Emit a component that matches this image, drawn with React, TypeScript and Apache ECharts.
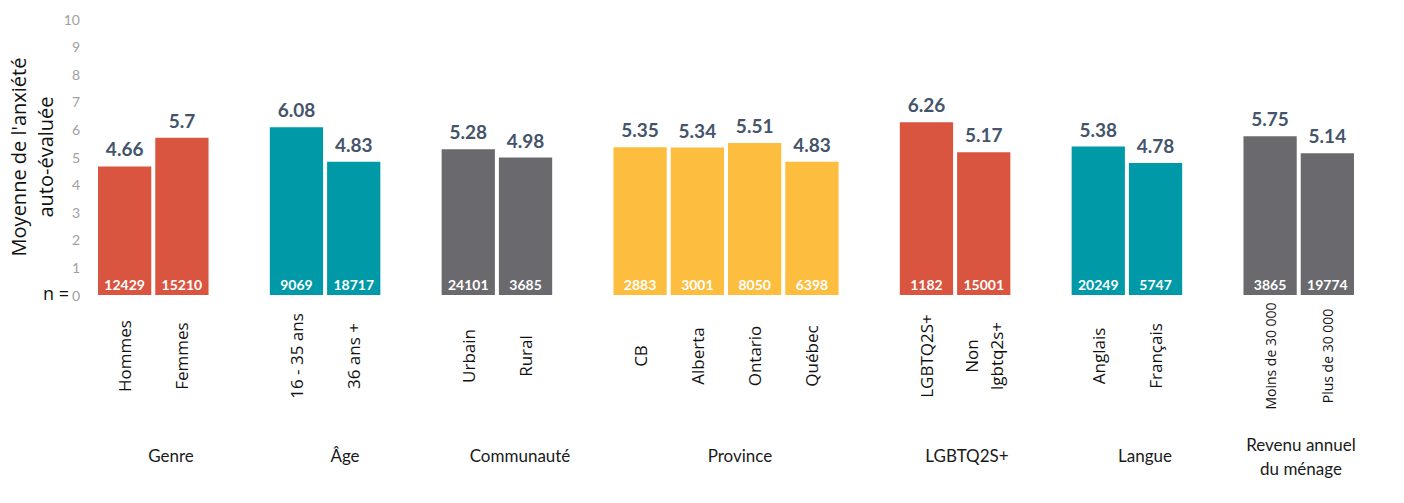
import React, { useEffect, useRef } from "react";
import * as echarts from "echarts";

const groups = ["Genre", "Âge", "Communauté", "Province", "LGBTQ2S+", "Langue", "Revenu annuel\ndu ménage"];
const categoriesByGroup = [
  ["Hommes", "Femmes"],
  ["16 - 35 ans", "36 ans +"],
  ["Urbain", "Rural"],
  ["CB", "Alberta", "Ontario", "Québec"],
  ["LGBTQ2S+", "Non\nlgbtq2s+"],
  ["Anglais", "Français"],
  ["Moins de 30 000", "Plus de 30 000"],
];
const means = [
  [4.66, 5.7],
  [6.08, 4.83],
  [5.28, 4.98],
  [5.35, 5.34, 5.51, 4.83],
  [6.26, 5.17],
  [5.38, 4.78],
  [5.75, 5.14],
];
const counts = [
  [12429, 15210],
  [9069, 18717],
  [24101, 3685],
  [2883, 3001, 8050, 6398],
  [1182, 15001],
  [20249, 5747],
  [3865, 19774],
];
const groupColors = ["#D9553F", "#0099A8", "#6A6A6E", "#FDBE3F", "#D9553F", "#0099A8", "#6A6A6E"];
const yTicks = [0, 1, 2, 3, 4, 5, 6, 7, 8, 9, 10];
const groupLabelX = [171, 345, 520, 740, 967, 1145, 1301];

export default function App() {
  const ref = useRef<HTMLDivElement>(null);
  useEffect(() => {
    if (!ref.current) return;
    const chart = echarts.init(ref.current, null, { renderer: "svg" });

    const cats: string[] = [];
    const smallCats = new Set<string>(categoriesByGroup[6]);
    const meanData: any[] = [];
    const countData: any[] = [];
    groups.forEach((g, gi) => {
      if (gi > 0) {
        cats.push("gap" + gi);
        meanData.push("-");
        countData.push("-");
      }
      categoriesByGroup[gi].forEach((c, ci) => {
        cats.push(c);
        meanData.push({ value: means[gi][ci], itemStyle: { color: groupColors[gi] } });
        countData.push({ value: means[gi][ci], n: counts[gi][ci] });
      });
    });

    const graphics: any[] = [
      {
        type: "text",
        x: 32,
        y: 157,
        rotation: Math.PI / 2,
        style: {
          text: "Moyenne de l'anxiété\nauto-évaluée",
          fontFamily: "Open Sans",
          fontSize: 20,
          lineHeight: 27,
          fill: "#111",
          align: "center",
          verticalAlign: "middle",
        },
      },
      {
        type: "text",
        x: 56,
        y: 293,
        style: {
          text: "n =",
          fontFamily: "Open Sans",
          fontSize: 18,
          fill: "#111",
          align: "center",
          verticalAlign: "middle",
        },
      },
    ];
    groups.forEach((g, gi) => {
      graphics.push({
        type: "text",
        x: groupLabelX[gi],
        y: gi === 6 ? 456 : 455,
        style: {
          text: g,
          fontFamily: "Lato",
          fontSize: 17,
          lineHeight: 24,
          fill: "#1a1a1a",
          align: "center",
          verticalAlign: "middle",
        },
      });
    });

    chart.setOption({
      animation: false,
      grid: { left: 96, right: 48, top: 19, bottom: 208, containLabel: false },
      xAxis: {
        type: "category",
        data: cats,
        axisLine: { show: false },
        axisTick: { show: false },
        axisLabel: {
          interval: 0,
          rotate: 90,
          margin: 16,
          fontFamily: "Open Sans",
          fontSize: 17,
          lineHeight: 25,
          color: "#111",
          formatter: (v: string) => {
            if (v.startsWith("gap")) return "";
            const tag = smallCats.has(v) ? "s" : "c";
            return v
              .split("\n")
              .map((line) => `{${tag}|${line}}`)
              .join("\n");
          },
          rich: {
            c: { width: 90, align: "center", fontFamily: "Open Sans", fontSize: 17, lineHeight: 25, color: "#111" },
            s: { width: 90, align: "center", fontFamily: "Open Sans", fontSize: 14, lineHeight: 25, color: "#111" },
          },
        },
      },
      yAxis: {
        type: "value",
        min: yTicks[0],
        max: yTicks[yTicks.length - 1],
        interval: 1,
        axisLine: { show: false },
        axisTick: { show: false },
        splitLine: { show: false },
        axisLabel: {
          margin: 16,
          fontFamily: "Lato",
          fontSize: 14,
          color: "#A0A0A0",
        },
      },
      series: [
        {
          type: "bar",
          data: meanData,
          barCategoryGap: "7%",
          label: {
            show: true,
            position: "top",
            distance: 8,
            fontFamily: "Lato",
            fontWeight: "bold",
            fontSize: 19,
            color: "#44546A",
          },
        },
        {
          type: "bar",
          data: countData,
          barGap: "-100%",
          barCategoryGap: "7%",
          itemStyle: { color: "rgba(0,0,0,0)" },
          label: {
            show: true,
            position: "insideBottom",
            distance: 4,
            fontFamily: "Lato",
            fontWeight: "bold",
            fontSize: 14,
            color: "#ffffff",
            formatter: (p: any) => String(p.data.n),
          },
        },
      ],
      graphic: graphics,
    });
    return () => chart.dispose();
  }, []);
  return (
    <div
      ref={ref}
      style={{ position: "fixed", left: 0, top: 0, width: 1404, height: 503, background: "#fff" }}
    />
  );
}
